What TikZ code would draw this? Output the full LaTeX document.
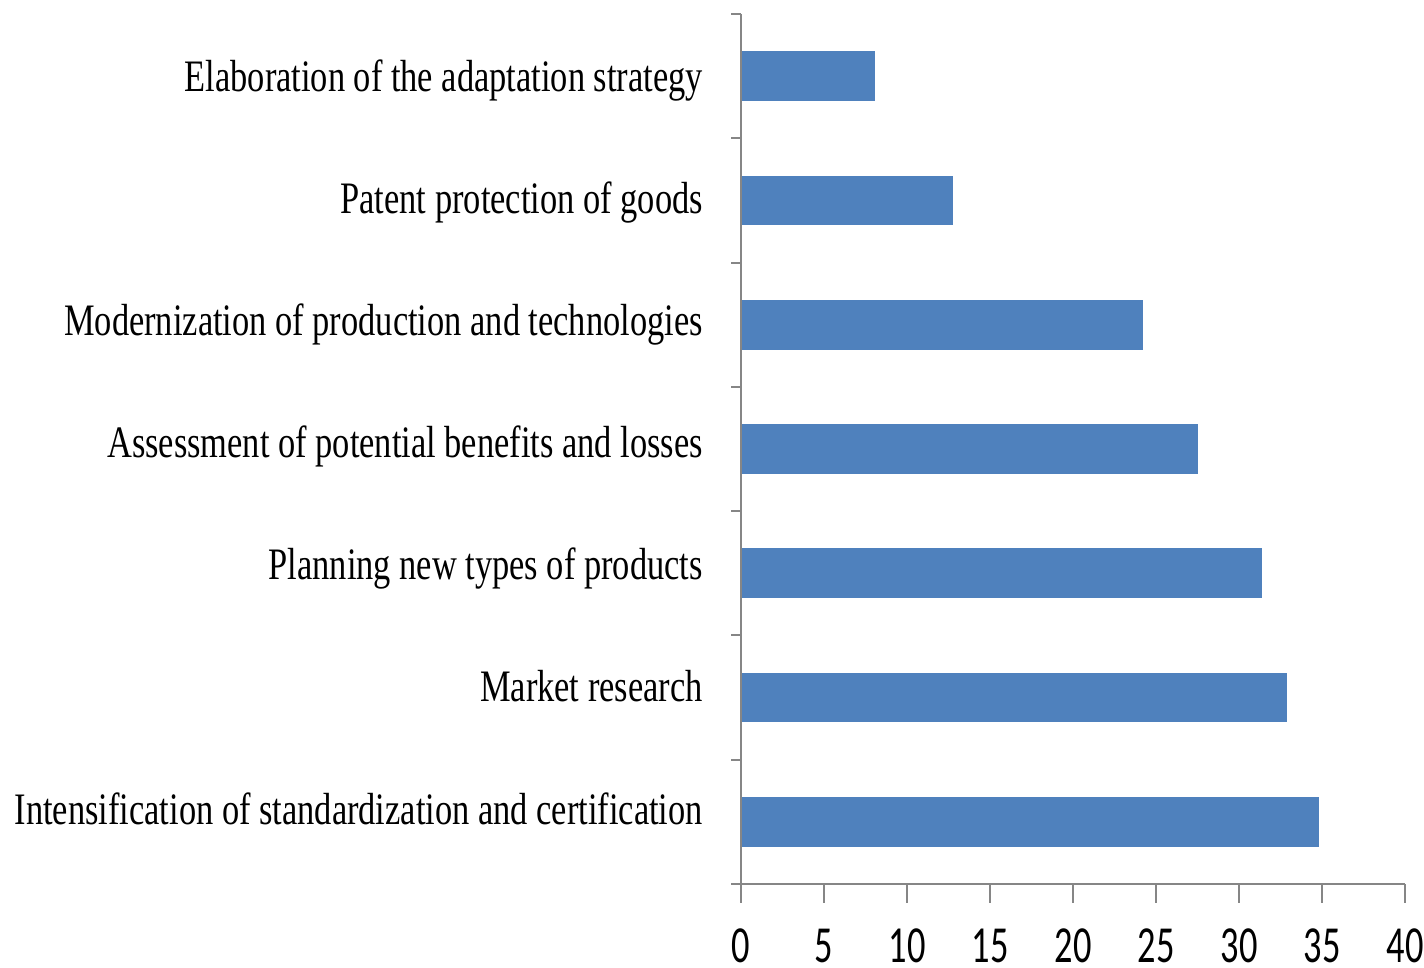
\documentclass[tikz,border=0pt]{standalone}
\usepackage{fontspec}
\setmainfont{Liberation Serif}[FakeStretch=0.765]
\newfontfamily\tickfont{Carlito}[FakeStretch=0.7]
\definecolor{barblue}{HTML}{4F81BD}
\definecolor{axisgray}{HTML}{868686}
\tikzset{
  bar/.style={fill=barblue},
  axisline/.style={draw=axisgray, line width=2pt},
  catlabel/.style={anchor=base east, inner sep=0pt,
    font=\fontsize{45}{54}\selectfont},
  ticklabel/.style={anchor=base, inner sep=0pt, text depth=0pt, yshift=-78pt,
    font=\tickfont\fontsize{52}{62}\selectfont},
}
\begin{document}
\begin{tikzpicture}
  \useasboundingbox (0,0) rectangle (1424pt,967pt);
  \begin{scope}[shift={(741pt,83pt)}, x=16.6pt, y=124.29pt]
    \coordinate (O) at (0,0);
    \coordinate (Top) at (0,7);
    \coordinate (Right) at (40,0);
    % bars, bottom to top
    \fill[bar] (0,0.3) rectangle (34.8,0.7);
    \fill[bar] (0,1.3) rectangle (32.9,1.7);
    \fill[bar] (0,2.3) rectangle (31.4,2.7);
    \fill[bar] (0,3.3) rectangle (27.5,3.7);
    \fill[bar] (0,4.3) rectangle (24.2,4.7);
    \fill[bar] (0,5.3) rectangle (12.8,5.7);
    \fill[bar] (0,6.3) rectangle (8.1,6.7);
    % axes
    \draw[axisline] (Top) -- (O) -- (Right);
    \foreach \k in {0,...,7}
      \draw[axisline] (0,\k) -- ++(-10pt,0);
    \foreach \v in {0,5,...,40}
      \draw[axisline] (\v,0) -- ++(0,-19pt);
    % value labels
    \foreach \v in {0,5,...,40}
      \node[ticklabel] (t\v) at (\v,0) {\v};
  \end{scope}
  % category labels, baselines 122pt apart
  \begin{scope}[shift={(703pt,143pt)}, y=122pt]
    \node[catlabel] (intens) at (0,0) {Intensification of standardization and certification};
    \node[catlabel] (market) at (0,1) {Market research};
    \node[catlabel] (plan) at (0,2) {Planning new types of products};
    \node[catlabel] (assess) at (0,3) {Assessment of potential benefits and losses};
    \node[catlabel] (modern) at (0,4) {Modernization of production and technologies};
    \node[catlabel] (patent) at (0,5) {Patent protection of goods};
    \node[catlabel] (elab) at (0,6) {Elaboration of the adaptation strategy};
  \end{scope}
\end{tikzpicture}
\end{document}
